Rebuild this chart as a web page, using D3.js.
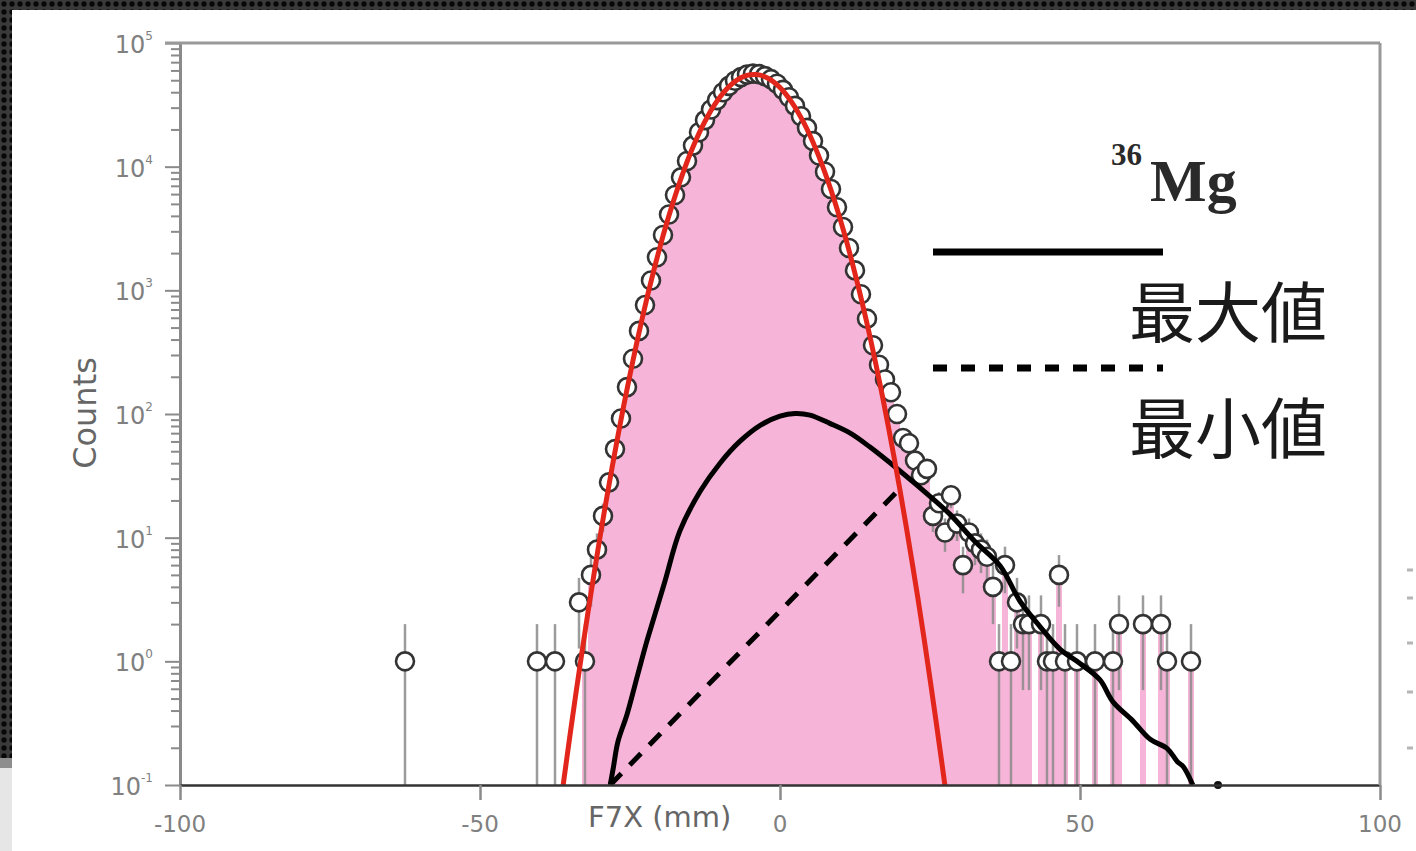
<!DOCTYPE html>
<html>
<head>
<meta charset="utf-8">
<script src="https://cdn.jsdelivr.net/npm/d3@7"></script>
<style>
html, body { margin: 0; padding: 0; background: #fff; }
svg { display: block; }
</style>
</head>
<body>
<script>
// measured histogram, 1 mm bins (bin centres), zero bins left out
const binX = [-32.5, -31.5, -30.5, -29.5, -28.5, -27.5, -26.5, -25.5, -24.5, -23.5,
    -22.5, -21.5, -20.5, -19.5, -18.5, -17.5, -16.5, -15.5, -14.5, -13.5,
    -12.5, -11.5, -10.5, -9.5, -8.5, -7.5, -6.5, -5.5, -4.5, -3.5,
    -2.5, -1.5, -0.5, 0.5, 1.5, 2.5, 3.5, 4.5, 5.5, 6.5,
    7.5, 8.5, 9.5, 10.5, 11.5, 12.5, 13.5, 14.5, 15.5, 16.5,
    17.5, 18.5, 19.5, 20.5, 21.5, 22.5, 23.5, 24.5, 25.5, 26.5,
    27.5, 28.5, 29.5, 30.5, 31.5, 32.5, 33.5, 34.5, 35.5, 36.5,
    37.5, 38.5, 39.5, 40.5, 41.5, 43.5, 44.5, 45.5, 46.5, 47.5,
    49.5, 52.5, 55.5, 56.5, 60.5, 63.5, 64.5, 68.5];
const binCounts = [1, 5, 8, 15, 28, 52, 92, 165, 280, 470,
    760, 1200, 1850, 2800, 4100, 5900, 8200, 11100, 14800, 19000,
    23800, 29000, 34500, 40000, 45000, 49500, 53000, 55500, 56500, 56000,
    54000, 51000, 46800, 41800, 36400, 31000, 25600, 20600, 16100, 12300,
    9100, 6600, 4700, 3250, 2200, 1450, 930, 590, 360, 250,
    190, 150, 100, 64, 58, 42, 32, 36, 15, 19,
    11, 22, 13, 6, 11, 9, 8, 7, 4, 1,
    6, 1, 3, 2, 2, 2, 1, 1, 5, 1,
    1, 1, 1, 2, 2, 2, 1, 1];

// isolated events outside the shaded histogram
const strayX = [-62.5, -40.5, -37.5, -33.5];
const strayCounts = [1, 1, 1, 3];

// gaussian fit (red)
const fitX = [-37, -36, -35, -34, -33, -32, -31, -30, -29, -28, -27, -26, -25, -24, -23,
    -22, -21, -20, -19, -18, -17, -16, -15, -14, -13, -12, -11, -10, -9, -8,
    -7, -6, -5, -4, -3, -2, -1, 0, 1, 2, 3, 4, 5, 6, 7,
    8, 9, 10, 11, 12, 13, 14, 15, 16, 17, 18, 19, 20, 21, 22,
    23, 24, 25, 26, 27, 28, 29];
const fitY = [0.048, 0.112, 0.253, 0.557, 1.19, 2.5, 5.08, 10.1, 19.5, 36.6, 67.1, 120, 208, 353, 583,
    940, 1472, 2249, 3342, 4831, 6823, 9376, 12590, 16410, 20840, 25820, 31120, 36560, 41880, 46700,
    50800, 53700, 55350, 55600, 54450, 51880, 48200, 43630, 38460, 32990, 27600, 22490, 17850, 13800, 10400,
    7620, 5460, 3800, 2580, 1700, 1097, 689, 421, 250, 145, 82, 45, 24.2, 12.6, 6.4,
    3.2, 1.54, 0.72, 0.33, 0.148, 0.065, 0.027];

// upper estimate (solid black)
const maxX = [-28.3, -27.8, -27, -25.5, -23.7, -22.2, -21.2, -19.2, -16.7, -13.3, -10, -6.7, -3.3, 0, 2.5,
    5, 8.3, 11.7, 15, 20, 25, 28.3, 32.5, 36.7, 40, 43.3, 46.7, 50, 53.3, 55.5,
    58.8, 61.7, 64.5, 66.2, 67.2, 68.8];
const maxY = [0.1, 0.136, 0.225, 0.372, 0.785, 1.45, 2.1, 4.4, 11.3, 23.7, 40, 60, 81, 96, 101,
    98, 84, 70, 54, 34.6, 21.6, 15.5, 9.3, 5.9, 3.06, 1.92, 1.25, 0.96, 0.71, 0.47,
    0.33, 0.234, 0.198, 0.155, 0.141, 0.1];

// lower estimate (dashed black)
const minX = [-28.3, 20];
const minY = [0.1, 25];

const endDot = {x: 73, y: 0.1};

const xTicks = [-100, -50, 0, 50, 100];
const yExponents = [-1, 0, 1, 2, 3, 4, 5];

const W = 1416, H = 851;

const svg = d3.select('body').append('svg')
    .attr('width', W)
    .attr('height', H)
    .style('font-family', "'DejaVu Sans', sans-serif");

// dark slide border
const defs = svg.append('defs');
const pat = defs.append('pattern')
    .attr('id', 'dots')
    .attr('width', 8).attr('height', 8)
    .attr('patternUnits', 'userSpaceOnUse');
pat.append('rect').attr('width', 8).attr('height', 8).attr('fill', '#3a3a3a');
pat.append('circle').attr('cx', 4).attr('cy', 4).attr('r', 2.7).attr('fill', '#080808');

svg.append('rect').attr('x', 0).attr('y', 0).attr('width', W).attr('height', 10).attr('fill', 'url(#dots)');
svg.append('rect').attr('x', 0).attr('y', 0).attr('width', 12).attr('height', 758).attr('fill', 'url(#dots)');
svg.append('rect').attr('x', 0).attr('y', 758).attr('width', 12).attr('height', 10).attr('fill', '#8e8e8e');
svg.append('rect').attr('x', 0).attr('y', 768).attr('width', 12).attr('height', H - 768).attr('fill', '#e6e6e6');

const x = d3.scaleLinear().domain([-100, 100]).range([180, 1380]);
const y = d3.scaleLog().domain([0.1, 1e5]).range([785, 43]);

defs.append('clipPath').attr('id', 'plotclip')
    .append('rect')
    .attr('x', x(-100)).attr('y', y(1e5))
    .attr('width', x(100) - x(-100))
    .attr('height', y(0.1) - y(1e5));

const bins = binX.map((c, i) => ({x: c, n: binCounts[i]}));
const strays = strayX.map((c, i) => ({x: c, n: strayCounts[i]}));
const points = bins.concat(strays);

const plot = svg.append('g').attr('clip-path', 'url(#plotclip)');

// shaded histogram
plot.append('g')
    .selectAll('rect')
    .data(bins)
    .enter()
    .append('rect')
    .attr('x', d => x(d.x - 0.5))
    .attr('width', d => x(d.x + 0.5) - x(d.x - 0.5))
    .attr('y', d => y(d.n))
    .attr('height', d => y(0.1) - y(d.n))
    .attr('fill', '#f6b5d8')
    .attr('shape-rendering', 'crispEdges');

// poisson error bars
plot.append('g')
    .selectAll('line')
    .data(points)
    .enter()
    .append('line')
    .attr('x1', d => x(d.x))
    .attr('x2', d => x(d.x))
    .attr('y1', d => y(d.n + Math.sqrt(d.n)))
    .attr('y2', d => y(Math.max(d.n - Math.sqrt(d.n), 0.1)))
    .attr('stroke', '#8a8a8a')
    .attr('stroke-opacity', 0.85)
    .attr('stroke-width', 2.5);

// data markers
plot.append('g')
    .selectAll('circle')
    .data(points)
    .enter()
    .append('circle')
    .attr('cx', d => x(d.x))
    .attr('cy', d => y(d.n))
    .attr('r', 9)
    .attr('fill', '#fff')
    .attr('stroke', '#333')
    .attr('stroke-width', 2.6);

const line = d3.line()
    .x(d => x(d[0]))
    .y(d => y(d[1]))
    .curve(d3.curveCatmullRom);

plot.append('path')
    .datum(maxX.map((v, i) => [v, maxY[i]]))
    .attr('d', line)
    .attr('fill', 'none')
    .attr('stroke', '#000')
    .attr('stroke-width', 5)
    .attr('stroke-linejoin', 'round');

plot.append('path')
    .datum(minX.map((v, i) => [v, minY[i]]))
    .attr('d', d3.line().x(d => x(d[0])).y(d => y(d[1])))
    .attr('fill', 'none')
    .attr('stroke', '#000')
    .attr('stroke-width', 5)
    .attr('stroke-dasharray', '16,12');

plot.append('path')
    .datum(fitX.map((v, i) => [v, fitY[i]]))
    .attr('d', line)
    .attr('fill', 'none')
    .attr('stroke', '#e3261c')
    .attr('stroke-width', 5);

svg.append('circle')
    .attr('cx', x(endDot.x))
    .attr('cy', y(endDot.y))
    .attr('r', 4)
    .attr('fill', '#111');

// axes
const minorTicks = [];
for (let e = -1; e < 5; e++) {
    for (let m = 2; m < 10; m++) minorTicks.push(m * Math.pow(10, e));
}
const majorTicks = yExponents.map(e => Math.pow(10, e));

const yMinor = svg.append('g')
    .attr('transform', 'translate(' + x(-100) + ',0)')
    .call(d3.axisLeft(y).tickValues(minorTicks).tickSize(9).tickSizeOuter(0).tickFormat(''));
const yMajor = svg.append('g')
    .attr('transform', 'translate(' + x(-100) + ',0)')
    .call(d3.axisLeft(y).tickValues(majorTicks).tickSize(15).tickSizeOuter(0).tickFormat(''));
const xAxis = svg.append('g')
    .attr('transform', 'translate(0,' + y(0.1) + ')')
    .call(d3.axisBottom(x).tickValues(xTicks).tickSize(15).tickSizeOuter(0).tickFormat(''));

[yMinor, yMajor].forEach(g => {
    g.selectAll('.tick line').attr('stroke', '#8a8a8a').attr('stroke-width', 2);
    g.select('.domain').attr('stroke', '#8a8a8a').attr('stroke-width', 3);
});
xAxis.selectAll('.tick line').attr('stroke', '#8a8a8a').attr('stroke-width', 2.5);
xAxis.select('.domain').attr('stroke', '#333').attr('stroke-width', 2.5);

// frame top and right
svg.append('line')
    .attr('x1', x(-100) - 15).attr('x2', x(100))
    .attr('y1', y(1e5)).attr('y2', y(1e5))
    .attr('stroke', '#999').attr('stroke-width', 3);
svg.append('line')
    .attr('x1', x(100)).attr('x2', x(100))
    .attr('y1', y(1e5)).attr('y2', y(0.1))
    .attr('stroke', '#999').attr('stroke-width', 3);

// y tick labels 10^n
const yLab = svg.append('g')
    .selectAll('text')
    .data(yExponents)
    .enter()
    .append('text')
    .attr('x', 153)
    .attr('y', e => y(Math.pow(10, e)) + 10)
    .attr('text-anchor', 'end')
    .attr('fill', '#808080');
yLab.append('tspan').attr('font-size', 24).text('10');
yLab.append('tspan').attr('font-size', 12).attr('dy', -13).text(e => String(e));

// x tick labels
svg.append('g')
    .selectAll('text')
    .data(xTicks)
    .enter()
    .append('text')
    .attr('x', d => x(d))
    .attr('y', 832)
    .attr('text-anchor', 'middle')
    .attr('font-size', 23)
    .attr('fill', '#808080')
    .text(d => d);

svg.append('text')
    .attr('x', 588)
    .attr('y', 827)
    .attr('font-size', 29)
    .attr('fill', '#666')
    .text('F7X (mm)');

svg.append('text')
    .attr('transform', 'translate(96,413) rotate(-90)')
    .attr('text-anchor', 'middle')
    .attr('font-size', 32)
    .attr('fill', '#666')
    .text('Counts');

// legend
const iso = svg.append('text')
    .attr('x', 1111)
    .attr('y', 201)
    .attr('font-family', "'Liberation Serif', serif")
    .attr('font-weight', 'bold')
    .attr('fill', '#2a2a2a');
iso.append('tspan').attr('font-size', 31).attr('dy', -36).text('36');
iso.append('tspan').attr('x', 1150).attr('dy', 36).attr('font-size', 60).text('Mg');

svg.append('line')
    .attr('x1', 933).attr('x2', 1163)
    .attr('y1', 252).attr('y2', 252)
    .attr('stroke', '#000').attr('stroke-width', 7);
svg.append('line')
    .attr('x1', 933).attr('x2', 1163)
    .attr('y1', 368).attr('y2', 368)
    .attr('stroke', '#000').attr('stroke-width', 7)
    .attr('stroke-dasharray', '14,14');

svg.append('text')
    .attr('x', 1129).attr('y', 337)
    .attr('font-family', "'Noto Sans CJK JP', sans-serif")
    .attr('font-size', 66)
    .attr('fill', '#1a1a1a')
    .text('最大値');
svg.append('text')
    .attr('x', 1129).attr('y', 453)
    .attr('font-family', "'Noto Sans CJK JP', sans-serif")
    .attr('font-size', 66)
    .attr('fill', '#1a1a1a')
    .text('最小値');

// faint marks cut off at the right edge of the slide
const edgeMarkY = [570, 598, 643, 692, 748];
svg.append('g')
    .selectAll('rect')
    .data(edgeMarkY)
    .enter()
    .append('rect')
    .attr('x', 1407).attr('y', d => d - 1.5)
    .attr('width', 6).attr('height', 3)
    .attr('fill', '#b5b5b5');
</script>
</body>
</html>
